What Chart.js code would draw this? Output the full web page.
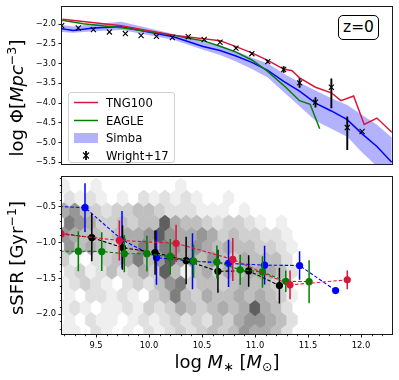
<!DOCTYPE html>
<html><head><meta charset="utf-8">
<script src="https://cdn.jsdelivr.net/npm/chart.js@4.4.0/dist/chart.umd.min.js"></script>
<style>
html,body{margin:0;padding:0;background:#fff;}
#wrap{position:relative;width:399px;height:380px;overflow:hidden;font-family:'DejaVu Sans',sans-serif;color:#000;}
canvas{position:absolute;left:0;}
#c1{top:0;}
#c2{top:170px;}
.ttl{position:absolute;white-space:nowrap;font-size:18px;line-height:1;transform:translate(-50%,-50%);}
.rot{transform:translate(-50%,-50%) rotate(-90deg);}
.sup{font-size:0.7em;position:relative;top:-0.55em;}
.sub{font-size:0.7em;position:relative;top:0.25em;}
#legend{position:absolute;left:68px;top:92px;width:107px;height:71px;border:1px solid #d0d0d0;border-radius:3px;background:rgba(255,255,255,0.85);box-sizing:border-box;}
#legend svg{position:absolute;left:0;top:0;}
.li{position:absolute;left:37px;font-size:11.6px;line-height:14px;white-space:nowrap;transform:translateY(-50%);}
#zlab{position:absolute;left:338px;top:15px;width:41px;height:25px;border:1px solid #000;border-radius:5px;box-sizing:border-box;font-size:15.5px;line-height:23px;text-align:center;background:#fff;}
</style>
</head><body>
<div id="wrap">
<canvas id="c1" width="399" height="172"></canvas>
<canvas id="c2" width="399" height="210"></canvas>
<div class="ttl rot" style="left:17px;top:98px;">log Φ[<i>Mpc</i><span class="sup">−3</span>]</div>
<div class="ttl rot" style="left:17px;top:258px;">sSFR [Gyr<span class="sup">−1</span>]</div>
<div class="ttl" style="left:227px;top:362px;">log <i>M</i><span class="sub">∗</span> [<i>M</i><span class="sub">⊙</span>]</div>
<div id="legend">
<svg width="107" height="71">
<line x1="5" y1="9.5" x2="29" y2="9.5" stroke="#dc143c" stroke-width="1.5"/>
<line x1="5" y1="27.5" x2="29" y2="27.5" stroke="#008000" stroke-width="1.5"/>
<rect x="5" y="40" width="24" height="10" fill="rgba(0,0,255,0.3)"/>
<line x1="17" y1="58" x2="17" y2="67" stroke="#000" stroke-width="1.8"/>
<line x1="14" y1="59.5" x2="20" y2="65.5" stroke="#000" stroke-width="1.1"/>
<line x1="14" y1="65.5" x2="20" y2="59.5" stroke="#000" stroke-width="1.1"/>
</svg>
<div class="li" style="top:9.5px;">TNG100</div>
<div class="li" style="top:27.5px;">EAGLE</div>
<div class="li" style="top:45px;">Simba</div>
<div class="li" style="top:62.5px;">Wright+17</div>
</div>
<div id="zlab">z=0</div>
</div>
<script>
// ---------- top panel: stellar mass function ----------
const massTicks = [9.5, 10.0, 10.5, 11.0, 11.5, 12.0];
const phiTicks = [-5.5, -5.0, -4.5, -4.0, -3.5, -3.0, -2.5, -2.0];
const ssfrTicks = [-2.0, -1.5, -1.0, -0.5];

const tngX = [9.185, 9.74, 10.23, 10.67, 10.82, 10.97, 11.12, 11.27, 11.35, 11.42, 11.57, 11.72, 11.81, 11.93, 12.03, 12.15, 12.29];
const tngY = [-1.88, -2.04, -2.28, -2.42, -2.57, -2.73, -2.92, -3.14, -3.18, -3.36, -3.60, -3.74, -3.94, -3.82, -4.54, -4.38, -4.74];

const eagleX = [9.176, 9.38, 9.76, 10.23, 10.36, 10.51, 10.67, 10.82, 10.97, 11.11, 11.29, 11.42, 11.52, 11.61];
const eagleY = [-1.90, -1.99, -2.10, -2.28, -2.35, -2.42, -2.56, -2.71, -2.91, -3.18, -3.60, -3.94, -4.03, -4.65];

const simbaX = [9.176, 9.286, 9.475, 9.74, 10.23, 10.51, 10.67, 10.82, 10.97, 11.12, 11.27, 11.42, 11.57, 11.72, 11.87, 12.01, 12.15, 12.29];
const simbaY = [-2.12, -2.16, -2.10, -2.07, -2.32, -2.57, -2.67, -2.81, -2.97, -3.17, -3.45, -3.70, -4.00, -4.20, -4.42, -4.78, -5.10, -5.50];
const simbaHi = [-2.02, -2.06, -2.00, -1.94, -2.25, -2.45, -2.54, -2.68, -2.85, -3.00, -3.25, -3.48, -3.68, -3.88, -4.05, -4.30, -4.55, -4.87];
const simbaLo = [-2.20, -2.22, -2.18, -2.15, -2.40, -2.65, -2.78, -2.95, -3.14, -3.35, -3.72, -4.08, -4.45, -4.65, -4.85, -5.25, -5.60, -5.90];

const wrightX = [9.176, 9.333, 9.475, 9.626, 9.777, 9.925, 10.07, 10.22, 10.37, 10.52, 10.67, 10.82, 10.97, 11.12, 11.27, 11.42, 11.57, 11.72, 11.87, 12.01];
const wrightY = [-2.04, -2.10, -2.14, -2.20, -2.24, -2.29, -2.31, -2.34, -2.32, -2.39, -2.46, -2.61, -2.75, -2.95, -3.15, -3.49, -3.98, -3.60, -4.62, -4.72];
const wrightErrHi = [0, 0, 0, 0, 0, 0, 0, 0, 0, 0, 0, 0.03, 0.03, 0.04, 0.08, 0.12, 0.13, 0.22, 0.28, 0];
const wrightErrLo = [0, 0, 0, 0, 0, 0, 0, 0, 0, 0, 0, 0.03, 0.03, 0.04, 0.08, 0.12, 0.13, 0.53, 0.57, 0];

// ---------- bottom panel: sSFR ----------
const blueX = [9.05, 9.396, 9.745, 10.07, 10.41, 10.75, 11.09, 11.42, 11.76];
const blueY = [-0.49, -0.513, -0.96, -1.21, -1.26, -1.29, -1.315, -1.32, -1.67];
const blueErr = [0, 0.34, 0.40, 0.38, 0.39, 0.33, 0.27, 0.20, 0];

const redX = [9.17, 9.72, 10.255, 10.79, 11.33, 11.87];
const redY = [-0.88, -0.97, -1.01, -1.235, -1.59, -1.52];
const redErr = [0, 0.28, 0.26, 0.30, 0.20, 0.13];

const greenX = [9.11, 9.333, 9.554, 9.767, 9.98, 10.20, 10.42, 10.64, 10.86, 11.07, 11.29, 11.51];
const greenY = [-1.12, -1.12, -1.125, -1.155, -1.155, -1.20, -1.26, -1.27, -1.38, -1.41, -1.54, -1.545];
const greenErr = [0, 0.28, 0.27, 0.26, 0.25, 0.25, 0.23, 0.23, 0.21, 0.22, 0.15, 0.30];

const blackX = [9.16, 9.46, 9.75, 10.057, 10.35, 10.65, 10.94, 11.23];
const blackY = [-0.87, -0.93, -1.07, -1.14, -1.25, -1.40, -1.395, -1.60];
const blackErr = [0, 0.33, 0.31, 0.31, 0.33, 0.30, 0.22, 0.25];

// hexbin background: rows from bottom (sSFR = hexY0 + k*hexDY), even rows start at hexX0, odd rows shifted by hexDX/2
const hexX0 = 9.2, hexDX = 0.1, hexY0 = -2.25, hexDY = 0.17;
const hexRows = [
  "1102101021232343465542",
  "1021101212323243566542",
  "1210112132354345458542",
  "1022121034743544545431",
  "1232102324673443454432",
  "2312423538414535455542",
  "3102345746855464354442",
  "6454345757656545443321",
  "6544345568655653433221",
  "765334344854432332101",
  "564323344322211101",
  "2121010212121001",
  "1001000000010"
];
const hexShades = ['', '#efefef', '#e0e0e0', '#d0d0d0', '#bfbfbf', '#acacac', '#969696', '#7e7e7e', '#5f5f5f', '#404040'];

const pts = (xs, ys) => xs.map((x, i) => ({x: x, y: ys[i]}));
const fmt = v => (v < 0 ? '\u2212' : '') + Math.abs(v).toFixed(1);
const FONT = {family: 'DejaVu Sans', size: 8.3};

const framePlugin = {
  id: 'frame',
  afterDraw(chart) {
    const {ctx, chartArea: a} = chart;
    ctx.save();
    ctx.strokeStyle = '#1a1a1a';
    ctx.lineWidth = 1;
    ctx.strokeRect(Math.round(a.left) - 0.5, Math.round(a.top) - 0.5, Math.round(a.width) + 1, Math.round(a.height) + 1);
    ctx.restore();
  }
};

const errorBarPlugin = {
  id: 'errorBars',
  beforeDatasetDraw(chart, args) {
    const ds = chart.data.datasets[args.index];
    if (!ds.errHi) return;
    const {ctx, chartArea: a, scales: {x, y}} = chart;
    ctx.save();
    ctx.beginPath();
    ctx.rect(a.left, a.top, a.width, a.height);
    ctx.clip();
    ctx.strokeStyle = ds.errColor;
    ctx.lineWidth = ds.errWidth;
    ds.data.forEach((p, i) => {
      const hi = ds.errHi[i], lo = ds.errLo[i];
      if (!hi && !lo) return;
      const px = x.getPixelForValue(p.x);
      ctx.beginPath();
      ctx.moveTo(px, y.getPixelForValue(p.y + hi));
      ctx.lineTo(px, y.getPixelForValue(p.y - lo));
      ctx.stroke();
    });
    ctx.restore();
  }
};

const hexPlugin = {
  id: 'hexbin',
  beforeDatasetsDraw(chart) {
    const {ctx, chartArea: a, scales: {x, y}} = chart;
    ctx.save();
    ctx.beginPath();
    ctx.rect(a.left, a.top, a.width, a.height);
    ctx.clip();
    const sy = 2 * hexDY;
    hexRows.forEach((row, k) => {
      const cy = hexY0 + k * hexDY;
      const x0 = hexX0 + (k % 2 ? hexDX / 2 : 0);
      for (let i = 0; i < row.length; i++) {
        const lv = +row[i];
        if (!lv) continue;
        const cx = x0 + i * hexDX;
        const verts = [
          [cx + hexDX / 2, cy - sy / 6], [cx + hexDX / 2, cy + sy / 6], [cx, cy + sy / 3],
          [cx - hexDX / 2, cy + sy / 6], [cx - hexDX / 2, cy - sy / 6], [cx, cy - sy / 3]
        ];
        ctx.beginPath();
        verts.forEach((v, j) => {
          const px = x.getPixelForValue(v[0]), py = y.getPixelForValue(v[1]);
          if (j) ctx.lineTo(px, py); else ctx.moveTo(px, py);
        });
        ctx.closePath();
        ctx.fillStyle = hexShades[lv];
        ctx.strokeStyle = hexShades[lv];
        ctx.lineWidth = 0.6;
        ctx.fill();
        ctx.stroke();
      }
    });
    ctx.restore();
  }
};

const minorTickPlugin = {
  id: 'minorTicks',
  afterDraw(chart) {
    const {ctx, chartArea: a, scales: {x, y}} = chart;
    ctx.save();
    ctx.strokeStyle = '#000';
    ctx.lineWidth = 0.8;
    for (let t = 92; t <= 122; t++) {
      if (t % 5 === 0) continue;
      const px = Math.round(x.getPixelForValue(t / 10)) + 0.5;
      ctx.beginPath(); ctx.moveTo(px, a.bottom); ctx.lineTo(px, a.bottom + 2.2); ctx.stroke();
    }
    for (let t = -22; t <= -1; t++) {
      if (t % 5 === 0) continue;
      const py = Math.round(y.getPixelForValue(t / 10)) + 0.5;
      ctx.beginPath(); ctx.moveTo(a.left, py); ctx.lineTo(a.left - 2.2, py); ctx.stroke();
    }
    ctx.restore();
  }
};

const yTickCfg = {font: FONT, color: '#000', padding: 2.5, callback: v => fmt(v)};
const gridCfg = {display: true, drawOnChartArea: false, drawTicks: true, tickLength: 3.5, tickWidth: 0.9, color: '#000'};

new Chart(document.getElementById('c1'), {
  type: 'line',
  data: {
    datasets: [
      {label: 'Wright+17', data: pts(wrightX, wrightY), showLine: false, pointStyle: 'crossRot', pointRadius: 3.6,
       pointBorderWidth: 1.1, borderColor: '#000', backgroundColor: '#000', order: 0,
       errHi: wrightErrHi, errLo: wrightErrLo, errColor: '#000', errWidth: 1.9},
      {label: 'TNG100', data: pts(tngX, tngY), borderColor: '#dc143c', borderWidth: 1.5, pointRadius: 0, tension: 0, order: 1},
      {label: 'EAGLE', data: pts(eagleX, eagleY), borderColor: '#008000', borderWidth: 1.5, pointRadius: 0, tension: 0, order: 2},
      {label: 'Simba', data: pts(simbaX, simbaY), borderColor: '#0000ff', borderWidth: 1.5, pointRadius: 0, tension: 0, order: 3},
      {label: 'Simba upper', data: pts(simbaX, simbaHi), borderWidth: 0, borderColor: 'rgba(0,0,0,0)', pointRadius: 0, fill: false, order: 4},
      {label: 'Simba lower', data: pts(simbaX, simbaLo), borderWidth: 0, borderColor: 'rgba(0,0,0,0)', pointRadius: 0,
       fill: '-1', backgroundColor: 'rgba(0,0,255,0.3)', order: 4}
    ]
  },
  options: {
    responsive: false, animation: false, events: [],
    layout: {padding: {top: 6, right: 7, left: 0, bottom: 0}},
    plugins: {legend: {display: false}, tooltip: {enabled: false}},
    scales: {
      x: {type: 'linear', min: 9.179, max: 12.292, afterFit(s) { s.height = 2; },
          ticks: {display: false}, grid: {display: false}, border: {display: false}},
      y: {type: 'linear', min: -5.556, max: -1.58, afterFit(s) { s.width = 62; },
          afterBuildTicks(s) { s.ticks = phiTicks.map(v => ({value: v})); },
          ticks: yTickCfg, grid: gridCfg, border: {display: false}}
    }
  },
  plugins: [errorBarPlugin, framePlugin]
});

const sDash = [3.5, 2];
function sfrSet(label, xs, ys, err, color, order) {
  return {label: label, data: pts(xs, ys), borderColor: color, backgroundColor: color, borderWidth: 1.1, borderDash: sDash,
          pointRadius: 3.6, pointBorderWidth: 0, pointBackgroundColor: color, tension: 0, order: order,
          errHi: err, errLo: err, errColor: color, errWidth: 1.5};
}

new Chart(document.getElementById('c2'), {
  type: 'line',
  data: {
    datasets: [
      sfrSet('TNG100', redX, redY, redErr, '#dc143c', 0),
      sfrSet('EAGLE', greenX, greenY, greenErr, '#008000', 1),
      sfrSet('Observed', blackX, blackY, blackErr, '#000000', 2),
      sfrSet('Simba', blueX, blueY, blueErr, '#0000ff', 3)
    ]
  },
  options: {
    responsive: false, animation: false, events: [],
    layout: {padding: {top: 0, right: 7, left: 0, bottom: 0}},
    plugins: {legend: {display: false}, tooltip: {enabled: false}},
    scales: {
      x: {type: 'linear', min: 9.179, max: 12.292, afterFit(s) { s.height = 46; },
          afterBuildTicks(s) { s.ticks = massTicks.map(v => ({value: v})); },
          ticks: {font: FONT, color: '#000', padding: 3, maxRotation: 0, callback: v => v.toFixed(1)},
          grid: gridCfg, border: {display: false}},
      y: {type: 'linear', min: -2.276, max: -0.091, afterFit(s) { s.width = 62; },
          afterBuildTicks(s) { s.ticks = ssfrTicks.map(v => ({value: v})); },
          ticks: yTickCfg, grid: gridCfg, border: {display: false}}
    }
  },
  plugins: [hexPlugin, errorBarPlugin, framePlugin, minorTickPlugin]
});
</script>
</body></html>
